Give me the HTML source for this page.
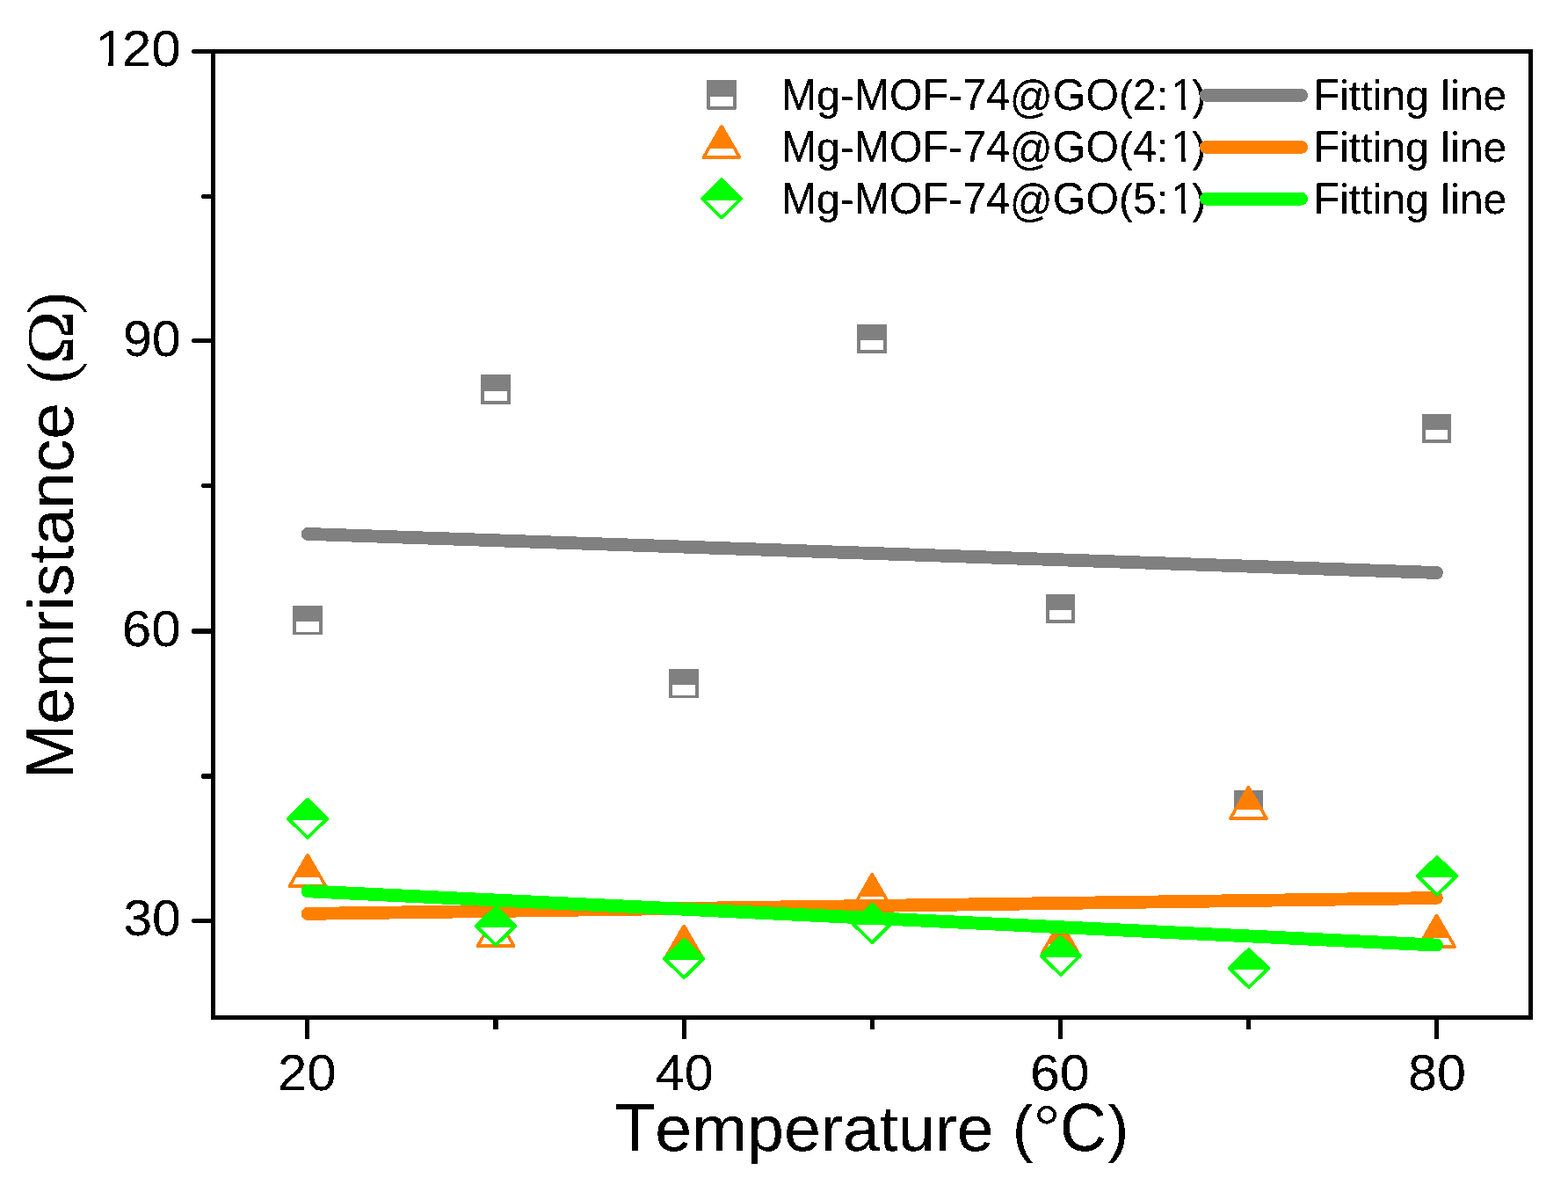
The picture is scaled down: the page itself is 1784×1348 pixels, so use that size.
<!DOCTYPE html>
<html lang="en"><head><meta charset="utf-8">
<title>Memristance vs Temperature</title>
<style>
html,body{margin:0;padding:0;background:#fff;}
body{width:1784px;height:1348px;overflow:hidden;}
svg{display:block;}
text{font-family:"Liberation Sans",sans-serif;fill:#000;font-kerning:none;font-variant-ligatures:none;text-rendering:geometricPrecision;}
.sym{font-family:"Liberation Serif",serif;}
</style></head><body>
<svg width="1784" height="1348" viewBox="0 0 1784 1348">
<rect width="1784" height="1348" fill="#fff"/>
<defs><filter id="hard" filterUnits="userSpaceOnUse" x="0" y="0" width="1784" height="1348" color-interpolation-filters="sRGB"><feComponentTransfer><feFuncA type="discrete" tableValues="0 0 1 1 1"/></feComponentTransfer></filter><clipPath id="c1"><path clip-rule="evenodd" d="M0 0H1784V1348H0ZM111.8 69.4H123.59V76.2H111.8ZM129.4 69.4H140.72V76.2H129.4Z"/></clipPath><clipPath id="c2"><path clip-rule="evenodd" d="M0 0H1784V1348H0ZM1334.12 120.22H1343.83V126.5H1334.12ZM1348.6 120.22H1357.93V126.5H1348.6Z"/></clipPath><clipPath id="c3"><path clip-rule="evenodd" d="M0 0H1784V1348H0ZM1334.12 179.32H1343.83V185.6H1334.12ZM1348.6 179.32H1357.93V185.6H1348.6Z"/></clipPath><clipPath id="c4"><path clip-rule="evenodd" d="M0 0H1784V1348H0ZM1334.12 238.42H1343.83V244.7H1334.12ZM1348.6 238.42H1357.93V244.7H1348.6Z"/></clipPath></defs>
<g shape-rendering="crispEdges">
<rect x="333" y="689" width="34" height="33.2" rx="1" fill="#808080"/><rect x="336.7" y="707.2" width="26.6" height="11.4" fill="#fff"/>
<rect x="547" y="426" width="34" height="34" rx="1" fill="#808080"/><rect x="550.7" y="445" width="26.6" height="11.4" fill="#fff"/>
<rect x="761.2" y="761" width="33.8" height="33.2" rx="1" fill="#808080"/><rect x="764.9" y="779.2" width="26.4" height="11.4" fill="#fff"/>
<rect x="975.3" y="369" width="33.7" height="33" rx="1" fill="#808080"/><rect x="979" y="387" width="26.3" height="11.4" fill="#fff"/>
<rect x="1190" y="676" width="33" height="33" rx="1" fill="#808080"/><rect x="1193.7" y="694" width="25.6" height="11.4" fill="#fff"/>
<rect x="1404" y="899" width="33" height="33" rx="1" fill="#808080"/><rect x="1407.7" y="917" width="25.6" height="11.4" fill="#fff"/>
<rect x="1618" y="471" width="33" height="33" rx="1" fill="#808080"/><rect x="1621.7" y="489" width="25.6" height="11.4" fill="#fff"/>
<line x1="350" y1="607.4" x2="1634.5" y2="651.5" stroke="#808080" stroke-width="14.8" stroke-linecap="round"/>
<polygon points="350,973 370.3,1008 329.7,1008" fill="#ff8000" stroke="#ff8000" stroke-width="4" stroke-linejoin="round"/><polygon points="337.2,998 362.8,998 367.3,1006 332.7,1006" fill="#fff"/>
<polygon points="564.08,1041 584.38,1076 543.78,1076" fill="#ff8000" stroke="#ff8000" stroke-width="4" stroke-linejoin="round"/><polygon points="551.28,1066 576.88,1066 581.38,1074 546.78,1074" fill="#fff"/>
<polygon points="778.17,1053.6 798.47,1088.6 757.87,1088.6" fill="#ff8000" stroke="#ff8000" stroke-width="4" stroke-linejoin="round"/><polygon points="765.37,1078.6 790.97,1078.6 795.47,1086.6 760.87,1086.6" fill="#fff"/>
<polygon points="992.25,995 1012.55,1030 971.95,1030" fill="#ff8000" stroke="#ff8000" stroke-width="4" stroke-linejoin="round"/><polygon points="979.45,1020 1005.05,1020 1009.55,1028 974.95,1028" fill="#fff"/>
<polygon points="1206.33,1049 1226.63,1084 1186.03,1084" fill="#ff8000" stroke="#ff8000" stroke-width="4" stroke-linejoin="round"/><polygon points="1193.53,1074 1219.13,1074 1223.63,1082 1189.03,1082" fill="#fff"/>
<polygon points="1420.41,896 1440.71,931 1400.12,931" fill="#ff8000" stroke="#ff8000" stroke-width="4" stroke-linejoin="round"/><polygon points="1407.62,921 1433.21,921 1437.71,929 1403.12,929" fill="#fff"/>
<polygon points="1634.5,1041.7 1654.8,1076.7 1614.2,1076.7" fill="#ff8000" stroke="#ff8000" stroke-width="4" stroke-linejoin="round"/><polygon points="1621.7,1066.7 1647.3,1066.7 1651.8,1074.7 1617.2,1074.7" fill="#fff"/>
<line x1="350" y1="1039.4" x2="1634.5" y2="1021.5" stroke="#ff8000" stroke-width="14.8" stroke-linecap="round"/>
<polygon points="350,909.8 372.1,931.3 350,952.8 327.9,931.3" fill="#00ff00" stroke="#00ff00" stroke-width="4" stroke-linejoin="round"/><polygon points="332.4,932.9 367.6,932.9 350,950.3" fill="#fff"/>
<polygon points="564.08,1032 586.18,1053.5 564.08,1075 541.98,1053.5" fill="#00ff00" stroke="#00ff00" stroke-width="4" stroke-linejoin="round"/><polygon points="546.48,1055.1 581.68,1055.1 564.08,1072.5" fill="#fff"/>
<polygon points="778.17,1069 800.27,1090.5 778.17,1112 756.07,1090.5" fill="#00ff00" stroke="#00ff00" stroke-width="4" stroke-linejoin="round"/><polygon points="760.57,1092.1 795.77,1092.1 778.17,1109.5" fill="#fff"/>
<polygon points="992.25,1029 1014.35,1050.5 992.25,1072 970.15,1050.5" fill="#00ff00" stroke="#00ff00" stroke-width="4" stroke-linejoin="round"/><polygon points="974.65,1052.1 1009.85,1052.1 992.25,1069.5" fill="#fff"/>
<polygon points="1206.83,1065.8 1228.93,1087.3 1206.83,1108.8 1184.73,1087.3" fill="#00ff00" stroke="#00ff00" stroke-width="4" stroke-linejoin="round"/><polygon points="1189.23,1088.9 1224.43,1088.9 1206.83,1106.3" fill="#fff"/>
<polygon points="1420.91,1080 1443.01,1101.5 1420.91,1123 1398.82,1101.5" fill="#00ff00" stroke="#00ff00" stroke-width="4" stroke-linejoin="round"/><polygon points="1403.32,1103.1 1438.51,1103.1 1420.91,1120.5" fill="#fff"/>
<polygon points="1635,975 1657.1,996.5 1635,1018 1612.9,996.5" fill="#00ff00" stroke="#00ff00" stroke-width="4" stroke-linejoin="round"/><polygon points="1617.4,998.1 1652.6,998.1 1635,1015.5" fill="#fff"/>
<line x1="350" y1="1013.8" x2="1634.5" y2="1075.1" stroke="#00ff00" stroke-width="14.8" stroke-linecap="round"/>
</g>
<g stroke="#000" stroke-width="5" fill="none" shape-rendering="crispEdges">
<rect x="242.5" y="58.5" width="1499" height="1099"/>
</g>
<g stroke="#000" stroke-linecap="round" fill="none" shape-rendering="crispEdges">
<line x1="220.5" y1="1047.5" x2="242.5" y2="1047.5" stroke-width="5"/>
<line x1="231.5" y1="883" x2="242.5" y2="883" stroke-width="6"/>
<line x1="220.5" y1="718" x2="242.5" y2="718" stroke-width="6"/>
<line x1="231.5" y1="552.5" x2="242.5" y2="552.5" stroke-width="5"/>
<line x1="220.5" y1="387.5" x2="242.5" y2="387.5" stroke-width="5"/>
<line x1="231.5" y1="223.5" x2="242.5" y2="223.5" stroke-width="5"/>
<line x1="220.5" y1="58.5" x2="242.5" y2="58.5" stroke-width="5"/>
</g>
<g fill="#000" shape-rendering="crispEdges">
<rect x="347" y="1157.5" width="5" height="24.5" rx="1"/>
<rect x="561" y="1157.5" width="6" height="13.5" rx="1"/>
<rect x="776" y="1157.5" width="5" height="24.5" rx="1"/>
<rect x="990" y="1157.5" width="5" height="13.5" rx="1"/>
<rect x="1204" y="1157.5" width="5" height="24.5" rx="1"/>
<rect x="1418" y="1157.5" width="5" height="13.5" rx="1"/>
<rect x="1632" y="1157.5" width="5" height="24.5" rx="1"/>
</g>
<g filter="url(#hard)">
<text clip-path="url(#c1)"><tspan x="108.72" y="74.7" font-size="57.5" textLength="33.44" lengthAdjust="spacingAndGlyphs">1</tspan><tspan x="138.85" y="74.7" font-size="57.5" textLength="66.88" lengthAdjust="spacingAndGlyphs">20</tspan></text>
<text><tspan x="139.93" y="404.8" font-size="57.5" textLength="65.75" lengthAdjust="spacingAndGlyphs">90</tspan></text>
<text><tspan x="138.85" y="734.8" font-size="57.5" textLength="66.88" lengthAdjust="spacingAndGlyphs">60</tspan></text>
<text><tspan x="140.41" y="1064.3" font-size="57.5" textLength="65.25" lengthAdjust="spacingAndGlyphs">30</tspan></text>
<text><tspan x="315.96" y="1239.7" font-size="57.5" textLength="66.55" lengthAdjust="spacingAndGlyphs">20</tspan></text>
<text><tspan x="745.71" y="1239.7" font-size="57.5" textLength="65.88" lengthAdjust="spacingAndGlyphs">40</tspan></text>
<text><tspan x="1171.91" y="1239.7" font-size="57.5" textLength="67.75" lengthAdjust="spacingAndGlyphs">60</tspan></text>
<text><tspan x="1602.06" y="1239.7" font-size="57.5" textLength="65.83" lengthAdjust="spacingAndGlyphs">80</tspan></text>
<text><tspan x="699.23" y="1308.9" font-size="76.91" textLength="46.05" lengthAdjust="spacingAndGlyphs">T</tspan><tspan x="745.28" y="1308.9" font-size="72.64" textLength="385.5" lengthAdjust="spacingAndGlyphs">emperature</tspan> <tspan x="1152.02" y="1308.4" font-size="72" textLength="23.35" lengthAdjust="spacingAndGlyphs">(</tspan><tspan class="sym" x="1176.85" y="1303.45" font-size="68" textLength="28.83" lengthAdjust="spacingAndGlyphs">°</tspan><tspan x="1206.09" y="1308.9" font-size="77" textLength="52.97" lengthAdjust="spacingAndGlyphs">C</tspan><tspan x="1260.51" y="1308.4" font-size="72" textLength="23.72" lengthAdjust="spacingAndGlyphs">)</tspan></text>
<text transform="rotate(-90)"><tspan x="-886.14" y="83" font-size="76.91" textLength="62.3" lengthAdjust="spacingAndGlyphs">M</tspan><tspan x="-823.83" y="83" font-size="72.64" textLength="365.8" lengthAdjust="spacingAndGlyphs">emristance</tspan> <tspan class="sym" x="-436.04" y="83.2" font-size="76" textLength="24.48" lengthAdjust="spacingAndGlyphs">(</tspan><tspan class="sym" x="-414.3" y="83.2" font-size="76" textLength="60.67" lengthAdjust="spacingAndGlyphs">Ω</tspan><tspan class="sym" x="-357.56" y="83.2" font-size="76" textLength="24.92" lengthAdjust="spacingAndGlyphs">)</tspan></text>
</g>
<g shape-rendering="crispEdges">
<rect x="804" y="91" width="34" height="33.8" rx="1.5" fill="#808080"/><rect x="807.7" y="109.8" width="26.6" height="11.4" fill="#fff"/>
<polygon points="821,144 841.3,179 800.7,179" fill="#ff8000" stroke="#ff8000" stroke-width="4" stroke-linejoin="round"/><polygon points="808.2,169 833.8,169 838.3,177 803.7,177" fill="#fff"/>
<polygon points="821,204.5 843.1,226 821,247.5 798.9,226" fill="#00ff00" stroke="#00ff00" stroke-width="4" stroke-linejoin="round"/><polygon points="803.4,227.6 838.6,227.6 821,245" fill="#fff"/>
</g>
<g filter="url(#hard)">
<text clip-path="url(#c2)"><tspan x="888.74" y="125" font-size="50.58" textLength="40.21" lengthAdjust="spacingAndGlyphs">M</tspan><tspan x="928.95" y="125" font-size="47.77" textLength="42.92" lengthAdjust="spacingAndGlyphs">g-</tspan><tspan x="971.87" y="125" font-size="50.58" textLength="107.24" lengthAdjust="spacingAndGlyphs">MOF</tspan><tspan x="1079.1" y="125" font-size="47.77" textLength="16.07" lengthAdjust="spacingAndGlyphs">-</tspan><tspan x="1095.18" y="125" font-size="50.58" textLength="53.69" lengthAdjust="spacingAndGlyphs">74</tspan><tspan x="1148.87" y="127.92" font-size="52.15" textLength="49" lengthAdjust="spacingAndGlyphs">@</tspan><tspan x="1197.87" y="125" font-size="50.58" textLength="75.09" lengthAdjust="spacingAndGlyphs">GO</tspan><tspan x="1272.96" y="125" font-size="47.77" textLength="16.07" lengthAdjust="spacingAndGlyphs">(</tspan><tspan x="1289.03" y="125" font-size="50.58" textLength="26.84" lengthAdjust="spacingAndGlyphs">2</tspan><tspan x="1315.88" y="125" font-size="47.77" textLength="13.41" lengthAdjust="spacingAndGlyphs">:</tspan><tspan x="1331.94" y="125" font-size="50.58" textLength="26.84" lengthAdjust="spacingAndGlyphs">1</tspan><tspan x="1356.13" y="125" font-size="47.77" textLength="16.07" lengthAdjust="spacingAndGlyphs">)</tspan></text>
<text><tspan x="1494.54" y="125" font-size="50.58" textLength="29.45" lengthAdjust="spacingAndGlyphs">F</tspan><tspan x="1524" y="125" font-size="47.77" textLength="190.3" lengthAdjust="spacingAndGlyphs">itting line</tspan></text>
<text clip-path="url(#c3)"><tspan x="888.74" y="184.1" font-size="50.58" textLength="40.21" lengthAdjust="spacingAndGlyphs">M</tspan><tspan x="928.95" y="184.1" font-size="47.77" textLength="42.92" lengthAdjust="spacingAndGlyphs">g-</tspan><tspan x="971.87" y="184.1" font-size="50.58" textLength="107.24" lengthAdjust="spacingAndGlyphs">MOF</tspan><tspan x="1079.1" y="184.1" font-size="47.77" textLength="16.07" lengthAdjust="spacingAndGlyphs">-</tspan><tspan x="1095.18" y="184.1" font-size="50.58" textLength="53.69" lengthAdjust="spacingAndGlyphs">74</tspan><tspan x="1148.87" y="187.02" font-size="52.15" textLength="49" lengthAdjust="spacingAndGlyphs">@</tspan><tspan x="1197.87" y="184.1" font-size="50.58" textLength="75.09" lengthAdjust="spacingAndGlyphs">GO</tspan><tspan x="1272.96" y="184.1" font-size="47.77" textLength="16.07" lengthAdjust="spacingAndGlyphs">(</tspan><tspan x="1289.03" y="184.1" font-size="50.58" textLength="26.84" lengthAdjust="spacingAndGlyphs">4</tspan><tspan x="1315.88" y="184.1" font-size="47.77" textLength="13.41" lengthAdjust="spacingAndGlyphs">:</tspan><tspan x="1331.94" y="184.1" font-size="50.58" textLength="26.84" lengthAdjust="spacingAndGlyphs">1</tspan><tspan x="1356.13" y="184.1" font-size="47.77" textLength="16.07" lengthAdjust="spacingAndGlyphs">)</tspan></text>
<text><tspan x="1494.54" y="184.1" font-size="50.58" textLength="29.45" lengthAdjust="spacingAndGlyphs">F</tspan><tspan x="1524" y="184.1" font-size="47.77" textLength="190.3" lengthAdjust="spacingAndGlyphs">itting line</tspan></text>
<text clip-path="url(#c4)"><tspan x="888.74" y="243.2" font-size="50.58" textLength="40.21" lengthAdjust="spacingAndGlyphs">M</tspan><tspan x="928.95" y="243.2" font-size="47.77" textLength="42.92" lengthAdjust="spacingAndGlyphs">g-</tspan><tspan x="971.87" y="243.2" font-size="50.58" textLength="107.24" lengthAdjust="spacingAndGlyphs">MOF</tspan><tspan x="1079.1" y="243.2" font-size="47.77" textLength="16.07" lengthAdjust="spacingAndGlyphs">-</tspan><tspan x="1095.18" y="243.2" font-size="50.58" textLength="53.69" lengthAdjust="spacingAndGlyphs">74</tspan><tspan x="1148.87" y="246.12" font-size="52.15" textLength="49" lengthAdjust="spacingAndGlyphs">@</tspan><tspan x="1197.87" y="243.2" font-size="50.58" textLength="75.09" lengthAdjust="spacingAndGlyphs">GO</tspan><tspan x="1272.96" y="243.2" font-size="47.77" textLength="16.07" lengthAdjust="spacingAndGlyphs">(</tspan><tspan x="1289.03" y="243.2" font-size="50.58" textLength="26.84" lengthAdjust="spacingAndGlyphs">5</tspan><tspan x="1315.88" y="243.2" font-size="47.77" textLength="13.41" lengthAdjust="spacingAndGlyphs">:</tspan><tspan x="1331.94" y="243.2" font-size="50.58" textLength="26.84" lengthAdjust="spacingAndGlyphs">1</tspan><tspan x="1356.13" y="243.2" font-size="47.77" textLength="16.07" lengthAdjust="spacingAndGlyphs">)</tspan></text>
<text><tspan x="1494.54" y="243.2" font-size="50.58" textLength="29.45" lengthAdjust="spacingAndGlyphs">F</tspan><tspan x="1524" y="243.2" font-size="47.77" textLength="190.3" lengthAdjust="spacingAndGlyphs">itting line</tspan></text>
</g>
<g shape-rendering="crispEdges">
<line x1="1372.3" y1="108.4" x2="1480.6" y2="108.4" stroke="#808080" stroke-width="14.8" stroke-linecap="round"/>
<line x1="1372.3" y1="167.4" x2="1480.6" y2="167.4" stroke="#ff8000" stroke-width="14.8" stroke-linecap="round"/>
<line x1="1372.3" y1="226.2" x2="1480.6" y2="226.2" stroke="#00ff00" stroke-width="14.8" stroke-linecap="round"/>
</g>
</svg>
</body></html>
